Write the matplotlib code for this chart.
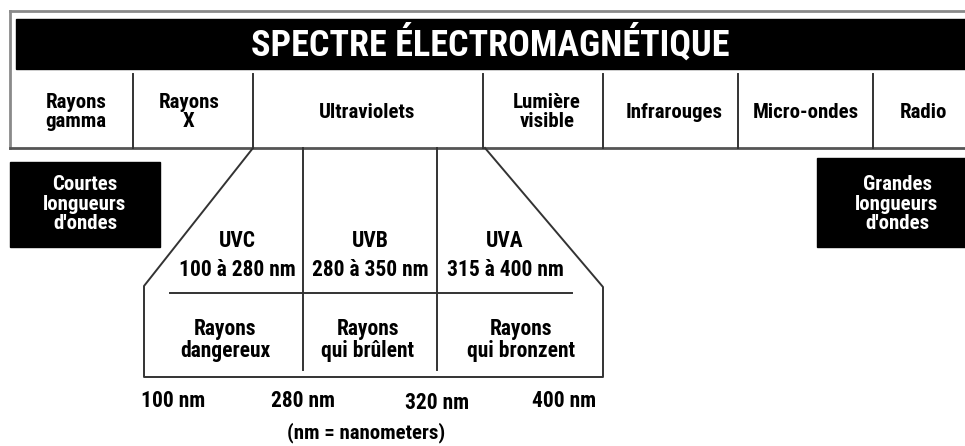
import matplotlib.pyplot as plt
from matplotlib import font_manager as fm
from matplotlib.patches import Rectangle

# textes du schéma
titre = 'SPECTRE ÉLECTROMAGNÉTIQUE'
categories = ['Rayons\ngamma', 'Rayons\nX', 'Ultraviolets', 'Lumière\nvisible',
              'Infrarouges', 'Micro-ondes', 'Radio']
bandes_uv = ['UVC', 'UVB', 'UVA']
plages_uv = ['100 à 280 nm', '280 à 350 nm', '315 à 400 nm']
effets_uv = ['Rayons\ndangereux', 'Rayons\nqui brûlent', 'Rayons\nqui bronzent']
longueurs = ['100 nm', '280 nm', '320 nm', '400 nm']
note = '(nm = nanometers)'
courtes = 'Courtes\nlongueurs\nd\'ondes'
grandes = 'Grandes\nlongueurs\nd\'ondes'

# mise en page (pixels)
W, H = 965, 446
bords_cat = [10, 133, 253, 483, 603, 738, 873, 965]
x_cat = [76, 189, 367, 547, 674, 806, 923]
x_bandes = [237, 370, 505]
x_effets = [225, 368, 521]
x_longueurs = [173, 303, 437, 564]
y_longueurs = [401, 401, 403, 401]

# chercher une police grasse étroite parmi celles installées
candidats = []
for f in fm.fontManager.ttflist:
    nom = (f.name + ' ' + f.fname).lower()
    etroite = ('narrow' in nom or 'condensed' in nom or f.stretch in ('condensed', 'semi-condensed'))
    grasse = f.weight in ('bold', 700, 'heavy', 800, 'demibold', 600) or 'bold' in nom
    if etroite and grasse and 'oblique' not in nom and 'italic' not in nom:
        candidats.append(f)

def rang(f):
    nom = (f.name + ' ' + f.fname).lower()
    for i, cle in enumerate(['liberation sans narrow', 'libsansnarrow', 'roboto condensed',
                             'robotocondensed', 'open sans condensed', 'opensans_condensed',
                             'dejavusanscondensed', 'dejavu']):
        if cle in nom:
            return i
    return 99

candidats.sort(key=rang)
if candidats:
    prop = fm.FontProperties(fname=candidats[0].fname)
else:
    prop = fm.FontProperties(family='DejaVu Sans', weight='bold', stretch='condensed')


def texte(x, y, s, taille, **kw):
    p = prop.copy()
    p.set_size(taille)
    ax.text(x, y, s, fontproperties=p, ha='center', va='center', **kw)


fig = plt.figure(figsize=(W / 100, H / 100), dpi=100)
ax = fig.add_axes([0, 0, 1, 1])
ax.set_xlim(0, W)
ax.set_ylim(H, 0)
ax.axis('off')

trait = '#333333'
lw = 1.4

# cadre extérieur et bandeau du titre
ax.plot([10, W], [11, 11], color='#8a8a8a', lw=2)
ax.plot([10, 10], [11, 148], color='#8a8a8a', lw=2)
ax.plot([10, W], [148, 148], color='#555555', lw=2)
ax.add_patch(Rectangle((16, 19), W - 16, 50, color='black'))
texte(490, 44, titre, 26, color='white')

# cases des catégories
for i, nom in enumerate(categories):
    if 0 < i:
        ax.plot([bords_cat[i], bords_cat[i]], [74, 148], color=trait, lw=lw)
    texte(x_cat[i], 112, nom, 15, linespacing=1.05)

# boîtes noires
ax.add_patch(Rectangle((10, 162), 150, 85, color='black'))
texte(85, 204, courtes, 15, color='white', linespacing=1.05)
ax.add_patch(Rectangle((817, 158), W - 817, 89, color='black'))
texte(897, 204, grandes, 15, color='white', linespacing=1.05)

# trapèze des ultraviolets
ax.plot([253, 144, 144, 603, 603, 485], [148, 286, 377, 377, 287, 148],
        color=trait, lw=lw)
for xv in (303, 437):
    ax.plot([xv, xv], [148, 370], color=trait, lw=lw)
ax.plot([170, 572], [293, 293], color=trait, lw=lw)

for xb, bande, plage in zip(x_bandes, bandes_uv, plages_uv):
    texte(xb, 241, bande, 15.5)
    texte(xb, 270, plage, 15.5)
for xe, effet in zip(x_effets, effets_uv):
    texte(xe, 340, effet, 15.5, linespacing=1.05)

for xl, yl, lab in zip(x_longueurs, y_longueurs, longueurs):
    texte(xl, yl, lab, 15.5)
texte(366, 433, note, 15)

fig.savefig('out.png', dpi=100)
